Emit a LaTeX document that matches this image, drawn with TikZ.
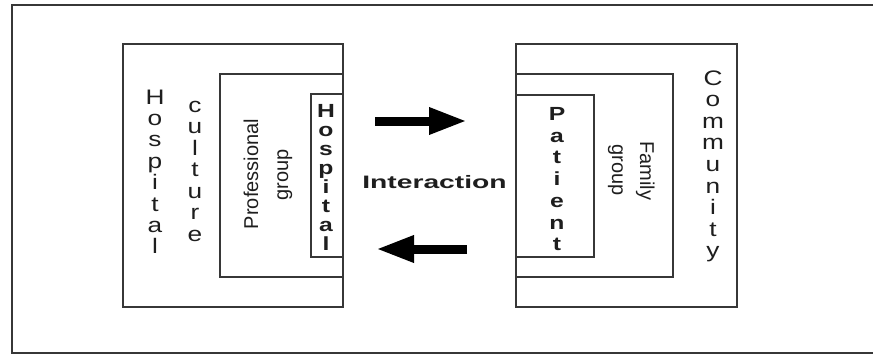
\documentclass[tikz,border=0pt]{standalone}
\usepackage{graphicx}
\usepackage{fontspec}
\setmainfont{Liberation Sans}
\usetikzlibrary{arrows.meta}
\definecolor{linegray}{RGB}{55,55,55}
\definecolor{textgray}{RGB}{30,30,30}
\begin{document}
\begin{tikzpicture}[x=1pt,y=-1pt,
  box/.style={draw=linegray,line width=2.2pt,inner sep=0pt,outer sep=0pt},
  letter/.style={anchor=base,inner sep=0pt,font=\fontsize{21}{25}\selectfont,text=textgray},
  bletter/.style={anchor=base,inner sep=0pt,font=\fontsize{19}{23}\selectfont\bfseries,text=textgray},
  rtext/.style={anchor=base,inner sep=0pt,font=\fontsize{20}{24}\selectfont,text=textgray},
  bigarrow/.style={line width=9pt,black,-{Triangle[length=38pt,width=25pt]}}
]
\useasboundingbox (0,0) rectangle (873,356);
\begin{scope}
  \clip (0,0) rectangle (873,356);
  \node[box,minimum width=880pt,minimum height=348pt,anchor=north west] (frame) at (12,5) {};
\end{scope}
% left boxes
\node[box,minimum width=220pt,minimum height=263pt] (hcult) at (233,175.5) {};
\node[box,minimum width=123pt,minimum height=203pt] (prof) at (281.5,175.5) {};
\node[box,minimum width=32pt,minimum height=163pt] (hosp) at (327,175.5) {};
% right boxes
\node[box,minimum width=221pt,minimum height=263pt] (comm) at (626.5,175.5) {};
\node[box,minimum width=157pt,minimum height=203pt] (fam) at (594.5,175.5) {};
\node[box,minimum width=78pt,minimum height=162pt] (pat) at (555,176) {};
% stacked words
\foreach \c [count=\i from 0] in {H,o,s,p,i,t,a,l}
  \node[letter] (hl\i) at (155,{104+\i*21.4}) {\scalebox{1.25}[1]{\c}};
\foreach \c [count=\i from 0] in {c,u,l,t,u,r,e}
  \node[letter] (cl\i) at (195,{112+\i*21.5}) {\scalebox{1.25}[1]{\c}};
\foreach \c [count=\i from 0] in {H,o,s,p,i,t,a,l}
  \node[bletter] (bh\i) at (326,{117+\i*19.1}) {\scalebox{1.3}[1]{\c}};
\foreach \c [count=\i from 0] in {P,a,t,i,e,n,t}
  \node[bletter] (pl\i) at (557,{120.5+\i*21.7}) {\scalebox{1.3}[1]{\c}};
\foreach \c [count=\i from 0] in {C,o,m,m,u,n,i,t,y}
  \node[letter] (co\i) at (713,{85+\i*21.6}) {\scalebox{1.25}[1]{\c}};
% rotated labels
\node[rtext,rotate=90] (proftxt) at (258,174) {Professional};
\node[rtext,rotate=90] (profgrp) at (288,175) {group};
\node[rtext,rotate=-90] (famtxt) at (640,171) {Family};
\node[rtext,rotate=-90] (famgrp) at (612,170) {group};
% interaction
\node[anchor=base,inner sep=0pt,font=\fontsize{18}{22}\selectfont\bfseries,text=textgray] (inter) at (434.5,188) {\scalebox{1.57}[1]{Interaction}};
\coordinate (a1s) at (375,121);
\coordinate (a1e) at (467,121);
\coordinate (a2s) at (467,249);
\coordinate (a2e) at (376,249);
\draw[bigarrow] (a1s) -- (a1e);
\draw[bigarrow] (a2s) -- (a2e);
\end{tikzpicture}
\end{document}
